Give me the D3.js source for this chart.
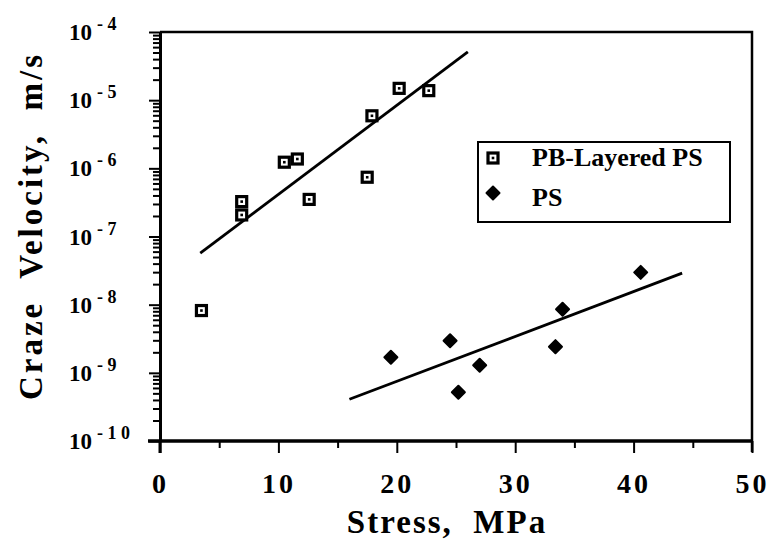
<!DOCTYPE html>
<html>
<head>
<meta charset="utf-8">
<script src="https://cdn.jsdelivr.net/npm/d3@7"></script>
<style>
  body { margin: 0; background: #fff; }
  text { font-family: "Liberation Serif", "Times New Roman", serif; font-weight: bold; fill: #000; }
</style>
</head>
<body>
<div id="chart"></div>
<script>
  // size of the svg
  var width = 774,
      height = 541;

  // PB-Layered PS points (stress in MPa, velocity in m/s)
  var pbStress   = [3.5, 6.9, 6.9, 10.5, 11.6, 12.6, 17.5, 17.9, 20.2, 22.7];
  var pbVelocity = [8.2e-9, 3.25e-7, 2.07e-7, 1.23e-6, 1.37e-6, 3.5e-7, 7.4e-7, 5.9e-6, 1.49e-5, 1.38e-5];

  // PS points
  var psStress   = [19.5, 24.5, 25.2, 27.0, 33.4, 34.0, 40.6];
  var psVelocity = [1.69e-9, 2.96e-9, 5.2e-10, 1.29e-9, 2.42e-9, 8.55e-9, 2.98e-8];

  // fitted lines, end points
  var pbFitStress = [3.4, 26.0],   pbFitVelocity = [5.7e-8, 5.1e-5];
  var psFitStress = [16.0, 44.1],  psFitVelocity = [4.1e-10, 2.9e-8];

  // ticks
  var xMajor = [0, 10, 20, 30, 40, 50];
  var xMinor = [5, 15, 25, 35, 45];
  var yDecades = [1e-10, 1e-9, 1e-8, 1e-7, 1e-6, 1e-5, 1e-4];

  var legendLabels = ["PB-Layered PS", "PS"];

  // plot box edges (window.top is reserved, so prefixed names)
  var plotLeft = 160, plotRight = 752, plotTop = 32, plotBottom = 441;

  var svg = d3.select("#chart")
      .append("svg")
      .attr("width", width)
      .attr("height", height);

  var x = d3.scaleLinear().domain([0, 50]).range([plotLeft, plotRight]);
  var y = d3.scaleLog().domain([1e-10, 1e-4]).range([plotBottom, plotTop]);

  // minor log ticks, 2..9 in every decade
  var yMinor = [];
  yDecades.slice(0, -1).forEach(function(d) {
    for (var k = 2; k <= 9; k++) yMinor.push(d * k);
  });

  // frame (top and right sides)
  svg.append("path")
      .attr("d", "M" + plotLeft + "," + plotTop + "H" + plotRight + "V" + (plotBottom + 11))
      .attr("fill", "none")
      .attr("stroke", "#000")
      .attr("stroke-width", 2.5);

  // left axis
  var gy = svg.append("g").attr("transform", "translate(" + plotLeft + ",0)");
  gy.call(d3.axisLeft(y).tickValues(yDecades).tickSize(11).tickSizeOuter(0).tickFormat(""));
  gy.append("g").call(d3.axisLeft(y).tickValues(yMinor).tickSize(7).tickSizeOuter(0).tickFormat(""));
  gy.selectAll("line").attr("stroke", "#000").attr("stroke-width", 2);
  gy.selectAll("path.domain").attr("stroke", "#000").attr("stroke-width", 3);

  // y tick labels written as 10 with a raised exponent
  yDecades.forEach(function(d) {
    var e = Math.round(Math.log10(d));
    var t = svg.append("text")
        .attr("x", 69)
        .attr("y", y(d) + 8)
        .style("font-size", "23px");
    t.append("tspan").text("10");
    t.append("tspan")
        .attr("dx", 5)
        .attr("dy", -10)
        .style("font-size", "18px")
        .text("- " + String(-e).split("").join(" "));
  });

  // bottom axis
  var gx = svg.append("g").attr("transform", "translate(0," + plotBottom + ")");
  gx.call(d3.axisBottom(x).tickValues(xMajor).tickSize(12).tickSizeOuter(0).tickPadding(20));
  gx.append("g").call(d3.axisBottom(x).tickValues(xMinor).tickSize(7).tickSizeOuter(0).tickFormat(""));
  gx.selectAll("line").attr("stroke", "#000").attr("stroke-width", 2);
  gx.selectAll("path.domain").attr("stroke", "#000").attr("stroke-width", 3)
      .attr("d", "M" + (plotLeft - 12) + ",0H" + plotRight);
  gx.selectAll("text")
      .style("font-size", "28px")
      .style("letter-spacing", "3px")
      .style("font-family", "'Liberation Serif', serif")
      .style("font-weight", "bold")
      .attr("fill", "#000");

  // extend the y axis a little below the x axis
  svg.append("line")
      .attr("x1", plotLeft).attr("x2", plotLeft)
      .attr("y1", plotBottom).attr("y2", plotBottom + 12)
      .attr("stroke", "#000").attr("stroke-width", 3);

  // axis titles
  svg.append("text")
      .attr("x", 447)
      .attr("y", 533)
      .attr("text-anchor", "middle")
      .style("font-size", "33px")
      .style("letter-spacing", "2px")
      .attr("xml:space", "preserve")
      .text("Stress,  MPa");

  svg.append("text")
      .attr("transform", "translate(42,226) rotate(-90)")
      .attr("text-anchor", "middle")
      .style("font-size", "33px")
      .style("letter-spacing", "3px")
      .attr("xml:space", "preserve")
      .text("Craze  Velocity,  m/s");

  // fit lines
  var line = d3.line()
      .x(function(d) { return x(d[0]); })
      .y(function(d) { return y(d[1]); });

  svg.append("path")
      .datum(d3.zip(pbFitStress, pbFitVelocity))
      .attr("d", line)
      .attr("fill", "none").attr("stroke", "#000").attr("stroke-width", 2.8);

  svg.append("path")
      .datum(d3.zip(psFitStress, psFitVelocity))
      .attr("d", line)
      .attr("fill", "none").attr("stroke", "#000").attr("stroke-width", 2.8);

  // marker helpers
  function squareMarker(g) {
    g.append("rect")
        .attr("x", -5).attr("y", -5).attr("width", 10).attr("height", 10)
        .attr("fill", "#fff").attr("stroke", "#000").attr("stroke-width", 3.2);
    g.append("rect")
        .attr("x", -1.3).attr("y", -1.3).attr("width", 2.6).attr("height", 2.6)
        .attr("fill", "#000");
  }
  function diamondMarker(g) {
    g.append("rect")
        .attr("x", -4.6).attr("y", -4.6).attr("width", 9.2).attr("height", 9.2)
        .attr("transform", "rotate(45)")
        .attr("fill", "#000").attr("stroke", "#000").attr("stroke-width", 2)
        .attr("stroke-linejoin", "round");
  }

  // PB-Layered PS points
  svg.selectAll("g.pb")
      .data(d3.zip(pbStress, pbVelocity))
      .enter()
    .append("g")
      .attr("class", "pb")
      .attr("transform", function(d) { return "translate(" + x(d[0]) + "," + y(d[1]) + ")"; })
      .each(function() { squareMarker(d3.select(this)); });

  // PS points
  svg.selectAll("g.ps")
      .data(d3.zip(psStress, psVelocity))
      .enter()
    .append("g")
      .attr("class", "ps")
      .attr("transform", function(d) { return "translate(" + x(d[0]) + "," + y(d[1]) + ")"; })
      .each(function() { diamondMarker(d3.select(this)); });

  // legend
  var legend = svg.append("g");
  legend.append("rect")
      .attr("x", 478).attr("y", 142).attr("width", 252).attr("height", 80)
      .attr("fill", "#fff").attr("stroke", "#000").attr("stroke-width", 2);

  squareMarker(legend.append("g").attr("transform", "translate(493,158)"));
  diamondMarker(legend.append("g").attr("transform", "translate(493,193)"));

  legend.selectAll("text.lab")
      .data(legendLabels)
      .enter()
    .append("text")
      .attr("class", "lab")
      .attr("x", 532)
      .attr("y", function(d, i) { return 166 + i * 40; })
      .style("font-size", "26px")
      .text(function(d) { return d; });
</script>
</body>
</html>
